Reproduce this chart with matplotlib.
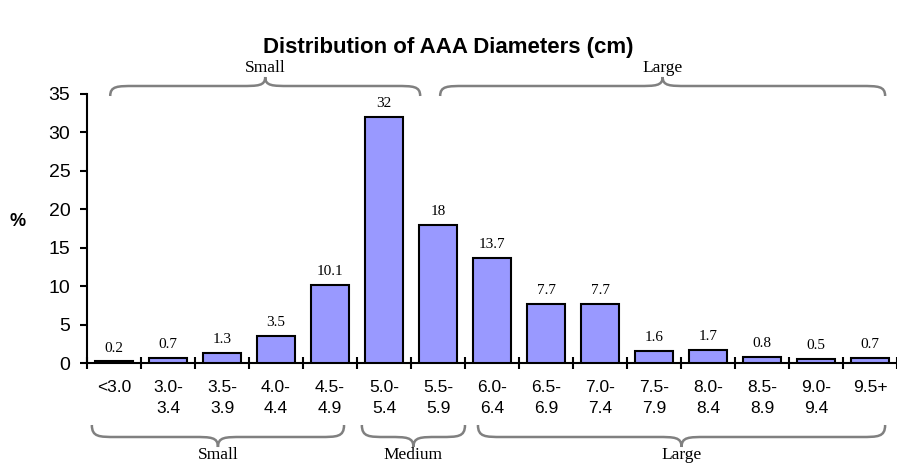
import matplotlib
matplotlib.use("Agg")
import matplotlib.pyplot as plt
from matplotlib.path import Path
from matplotlib.patches import PathPatch
from matplotlib.transforms import blended_transform_factory

categories = ["<3.0", "3.0-\n3.4", "3.5-\n3.9", "4.0-\n4.4", "4.5-\n4.9",
              "5.0-\n5.4", "5.5-\n5.9", "6.0-\n6.4", "6.5-\n6.9", "7.0-\n7.4",
              "7.5-\n7.9", "8.0-\n8.4", "8.5-\n8.9", "9.0-\n9.4", "9.5+"]
percent = [0.2, 0.7, 1.3, 3.5, 10.1, 32, 18, 13.7, 7.7, 7.7, 1.6, 1.7, 0.8, 0.5, 0.7]
value_labels = ["0.2", "0.7", "1.3", "3.5", "10.1", "32", "18", "13.7", "7.7",
                "7.7", "1.6", "1.7", "0.8", "0.5", "0.7"]

# Group braces: (label, left edge, right edge) in category units
top_groups = [("Small", -0.07, 5.67), ("Large", 6.04, 14.28)]
bottom_groups = [("Small", -0.41, 4.26), ("Medium", 4.59, 6.5), ("Large", 6.74, 14.28)]

W, H = 897, 463
fig = plt.figure(figsize=(W / 100, H / 100), dpi=100)
ax = fig.add_axes([87 / W, 1 - 363 / H, 1 - 87 / W, (363 - 94) / H])

x = list(range(len(categories)))
ax.bar(x, percent, width=0.7, color="#9999FF", edgecolor="black", linewidth=1.5, zorder=3)

for xi, v, lab in zip(x, percent, value_labels):
    ax.annotate(lab, (xi, v), xytext=(0, 5), textcoords="offset points",
                ha="center", va="bottom", fontsize=11, family="Liberation Serif")

ax.set_xlim(-0.5, len(categories) - 0.5)
ax.set_ylim(0, 35)
ax.set_yticks(range(0, 36, 5))
ax.set_xticks([i - 0.5 for i in range(len(categories) + 1)], minor=False)
ax.set_xticklabels([])
ax.set_xticks(x, minor=True)
ax.set_xticklabels(categories, minor=True, fontsize=12.5, family="Liberation Sans",
                   linespacing=1.5, va="top")
ax.tick_params(axis="x", which="minor", length=0, pad=12)
ax.tick_params(axis="x", which="major", direction="inout", length=9, width=1.5)
ax.tick_params(axis="y", direction="out", length=5, width=1.5, pad=7)
for t in ax.get_yticklabels():
    t.set_fontsize(14)
    t.set_family("Liberation Sans")

for s in ["top", "right"]:
    ax.spines[s].set_visible(False)
for s in ["left", "bottom"]:
    ax.spines[s].set_linewidth(1.5)

fig.text(0.5, 1 - 47 / H, "Distribution of AAA Diameters (cm)", ha="center", va="center",
         fontsize=16, fontweight="bold", family="Liberation Sans")
fig.text(18 / W, 1 - 222 / H, "%", ha="center", va="center", fontsize=13,
         fontweight="bold", family="Liberation Sans")

trans = blended_transform_factory(ax.transData, fig.transFigure)


def brace(x0, x1, y_end, y_mid, y_tip, r=0.45):
    """Curly brace spanning x0..x1; ends at y_end, body at y_mid, tip at y_tip."""
    xm = (x0 + x1) / 2
    verts = [
        (x0, y_end), (x0, y_mid), (x0 + r * 0.3, y_mid), (x0 + r, y_mid),
        (xm - r, y_mid),
        (xm - r * 0.3, y_mid), (xm, y_mid), (xm, y_tip),
        (xm, y_mid), (xm + r * 0.3, y_mid), (xm + r, y_mid),
        (x1 - r, y_mid),
        (x1 - r * 0.3, y_mid), (x1, y_mid), (x1, y_end),
    ]
    codes = [Path.MOVETO, Path.CURVE4, Path.CURVE4, Path.CURVE4,
             Path.LINETO,
             Path.CURVE4, Path.CURVE4, Path.CURVE4,
             Path.CURVE4, Path.CURVE4, Path.CURVE4,
             Path.LINETO,
             Path.CURVE4, Path.CURVE4, Path.CURVE4]
    patch = PathPatch(Path(verts, codes), facecolor="none", edgecolor="#808080",
                      linewidth=1.8, transform=trans, clip_on=False)
    ax.add_patch(patch)


def fy(p):
    return 1 - p / H


for label, x0, x1 in top_groups:
    brace(x0, x1, fy(96), fy(86), fy(77))
    ax.text((x0 + x1) / 2, fy(68), label, ha="center", va="center", fontsize=12.5,
            family="Liberation Serif", transform=trans)

for label, x0, x1 in bottom_groups:
    brace(x0, x1, fy(425), fy(437), fy(447))
    ax.text((x0 + x1) / 2, fy(455), label, ha="center", va="center", fontsize=12.5,
            family="Liberation Serif", transform=trans)

fig.savefig("out.png", dpi=100)
